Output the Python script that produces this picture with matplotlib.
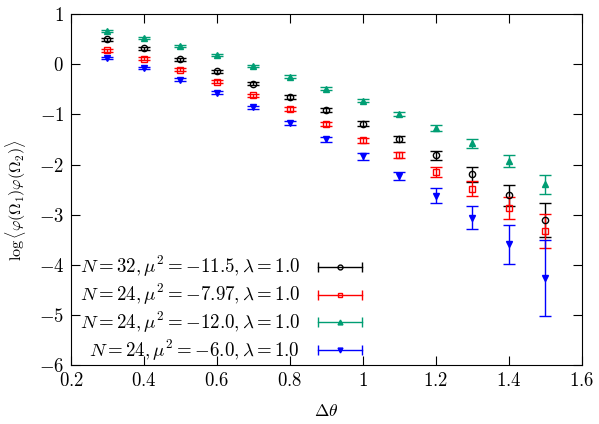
"""
log two-point correlator vs angular separation
"""
import matplotlib
matplotlib.use('Agg')
import matplotlib.pyplot as plt
from matplotlib.lines import Line2D
from matplotlib.legend_handler import HandlerLine2D
from matplotlib.ticker import FuncFormatter

plt.rcParams['font.family'] = 'serif'
plt.rcParams['font.serif'] = ['cmr10', 'DejaVu Serif']
plt.rcParams['mathtext.fontset'] = 'cm'
plt.rcParams['axes.unicode_minus'] = True
plt.rcParams['font.size'] = 13.5

# separation values
dtheta = [0.3, 0.4, 0.5, 0.6, 0.7, 0.8, 0.9, 1.0, 1.1, 1.2, 1.3, 1.4, 1.5]

# N=32, mu^2=-11.5
corr_32 = [0.50, 0.32, 0.10, -0.14, -0.39, -0.65, -0.91, -1.19, -1.49, -1.81, -2.19, -2.61, -3.10]
err_32 = [0.03, 0.03, 0.03, 0.03, 0.03, 0.04, 0.04, 0.05, 0.06, 0.09, 0.15, 0.21, 0.34]
# N=24, mu^2=-7.97
corr_24a = [0.28, 0.11, -0.11, -0.35, -0.62, -0.90, -1.20, -1.51, -1.80, -2.14, -2.48, -2.87, -3.32]
err_24a = [0.03, 0.03, 0.03, 0.03, 0.03, 0.04, 0.04, 0.05, 0.06, 0.10, 0.15, 0.22, 0.34]
# N=24, mu^2=-12.0
corr_24b = [0.67, 0.53, 0.36, 0.18, -0.03, -0.25, -0.49, -0.73, -0.99, -1.27, -1.57, -1.93, -2.39]
err_24b = [0.02, 0.02, 0.02, 0.02, 0.02, 0.03, 0.03, 0.03, 0.04, 0.06, 0.09, 0.12, 0.19]
# N=24, mu^2=-6.0
corr_24c = [0.12, -0.07, -0.31, -0.57, -0.86, -1.18, -1.49, -1.83, -2.22, -2.62, -3.06, -3.59, -4.26]
err_24c = [0.02, 0.02, 0.03, 0.03, 0.03, 0.04, 0.05, 0.07, 0.08, 0.15, 0.23, 0.38, 0.75]

labels = [
    r'$N = 32, \mu^2 = -11.5, \lambda = 1.0$',
    r'$N = 24, \mu^2 = -7.97, \lambda = 1.0$',
    r'$N = 24, \mu^2 = -12.0, \lambda = 1.0$',
    r'$N = 24, \mu^2 = -6.0, \lambda = 1.0$',
]
series = [(corr_32, err_32), (corr_24a, err_24a), (corr_24b, err_24b), (corr_24c, err_24c)]
colors = ['black', '#ff0000', '#009e73', '#0000ff']
markers = ['o', 's', '^', 'v']
hollow = [True, True, False, False]


def plot_correlator():
    fig = plt.figure(figsize=(5.99, 4.24), dpi=100)
    ax = fig.add_axes([0.1185, 0.138, 0.853, 0.829])

    handles = []
    handler_map = {}
    for (vals, errs), col, mk, hol, lab in zip(series, colors, markers, hollow, labels):
        mfc = 'none' if hol else col
        ax.errorbar(dtheta, vals, yerr=errs, fmt=mk, color=col, ms=4.5,
                    mfc=mfc, mec=col, mew=1, elinewidth=1, capsize=4.5, capthick=1)
        # gnuplot style legend sample: horizontal bar with caps and a marker
        caps = Line2D([], [], color=col, lw=1, marker='|', ms=7, mew=1)
        point = Line2D([], [], color=col, lw=0, marker=mk, ms=3.5,
                       mfc=mfc, mec=col, mew=1)
        handler_map[caps] = HandlerLine2D(numpoints=2, marker_pad=0)
        handler_map[point] = HandlerLine2D(numpoints=1)
        handles.append((caps, point))

    ax.legend(handles, labels, handler_map=handler_map, loc='lower left',
              bbox_to_anchor=(0.014, 0.002), frameon=False, markerfirst=False,
              handlelength=2.3, handletextpad=0.95, labelspacing=0.15,
              borderaxespad=0.0, borderpad=0.1, fontsize=13.6)

    ax.set_xlim(0.2, 1.6)
    ax.set_ylim(-6, 1)
    ax.set_xticks([0.2, 0.4, 0.6, 0.8, 1.0, 1.2, 1.4, 1.6])
    ax.set_yticks(range(-6, 2))
    fmt = FuncFormatter(lambda v, p: r'$%g$' % round(v, 3))
    ax.xaxis.set_major_formatter(fmt)
    ax.yaxis.set_major_formatter(fmt)
    ax.tick_params(direction='in', length=6.5, width=0.8, top=True, right=True,
                   labelsize=13.5, pad=5)
    for sp in ax.spines.values():
        sp.set_linewidth(0.8)

    ax.set_xlabel(r'$\Delta\theta$', fontsize=12.5, labelpad=9)
    ax.set_ylabel(r'$\log\langle\varphi(\Omega_1)\varphi(\Omega_2)\rangle$',
                  fontsize=11.5)
    ax.yaxis.set_label_coords(-0.084, 0.47)

    fig.savefig('out.png', dpi=100)


if __name__ == '__main__':
    plot_correlator()
